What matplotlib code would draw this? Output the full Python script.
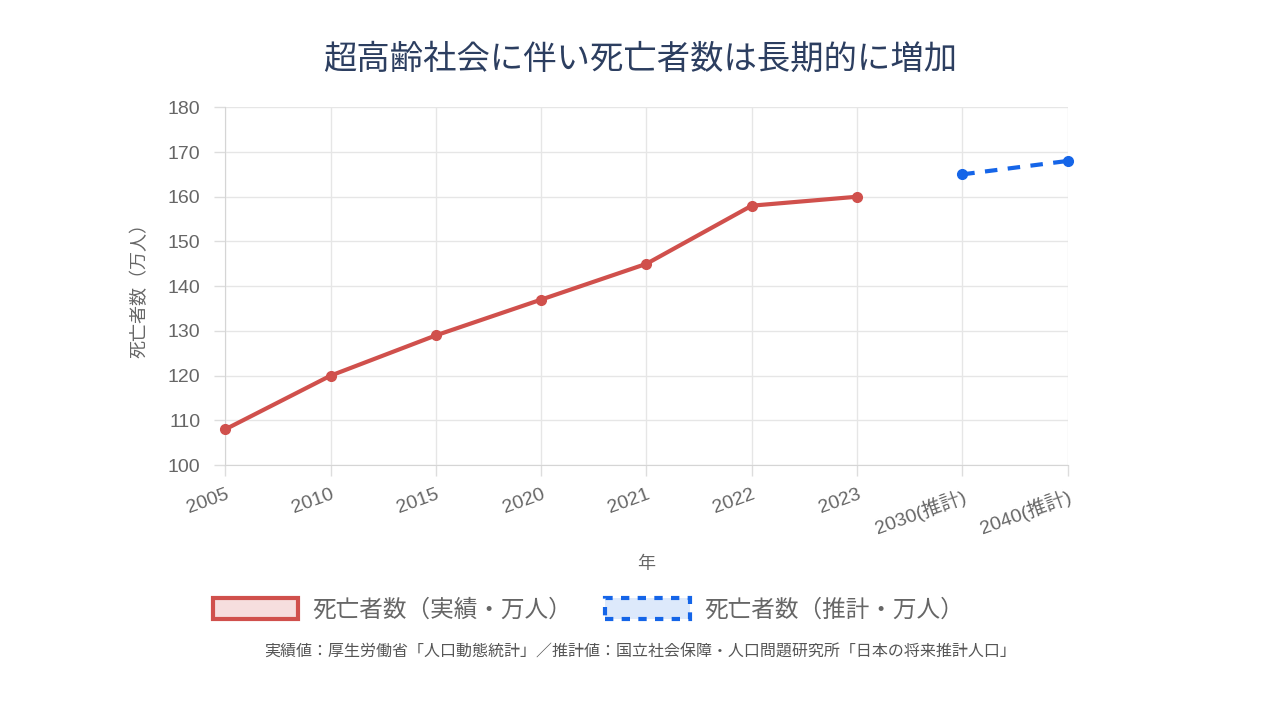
import matplotlib
matplotlib.use('Agg')
import matplotlib.pyplot as plt
from matplotlib.patches import Patch

plt.rcParams['font.family'] = ['Liberation Sans', 'Noto Sans CJK JP', 'DejaVu Sans']

# data
years = ['2005', '2010', '2015', '2020', '2021', '2022', '2023', '2030(推計)', '2040(推計)']
actual = [108, 120, 129, 137, 145, 158, 160]
forecast = [165, 168]
actual_idx = list(range(len(actual)))
forecast_idx = [7, 8]
yticks = [100, 110, 120, 130, 140, 150, 160, 170, 180]

red = '#d0504c'
blue = '#1565e8'
gray = '#666666'

fig = plt.figure(figsize=(12.8, 7.2), dpi=100)
ax = fig.add_axes([0.176, 0.354, 0.658, 0.497])

ax.plot(actual_idx, actual, color=red, linewidth=3, marker='o', markersize=7,
        solid_capstyle='round', zorder=3, clip_on=False)
ax.plot(forecast_idx, forecast, color=blue, linewidth=3, linestyle=(0, (3, 2.5)),
        marker='o', markersize=7, zorder=3, clip_on=False)

ax.set_xlim(0, 8)
ax.set_ylim(100, 180)
ax.set_yticks(yticks)
ax.set_xticks(range(len(years)))
ax.set_xticklabels(years, rotation=20, ha='right', rotation_mode='anchor')
ax.tick_params(axis='both', colors=gray, labelsize=14, length=8, width=1, color='#dddddd')
ax.tick_params(axis='x', pad=7)
ax.tick_params(axis='y', pad=10)
ax.grid(True, color='#e6e6e6', linewidth=1)
for s in ['top', 'right']:
    ax.spines[s].set_visible(False)
for s in ['left', 'bottom']:
    ax.spines[s].set_color('#d5d5d5')

ax.set_ylabel('死亡者数（万人）', color=gray, fontsize=13, labelpad=14)
ax.set_xlabel('年', color=gray, fontsize=13, labelpad=13)

fig.text(0.5, 0.917, '超高齢社会に伴い死亡者数は長期的に増加', ha='center', va='center',
         fontsize=24, color='#2c3e60')

handles = [
    Patch(facecolor='#f6dede', edgecolor=red, linewidth=3, label='死亡者数（実績・万人）'),
    Patch(facecolor='#dde9fb', edgecolor=blue, linewidth=3, linestyle=(0, (2, 2)),
          label='死亡者数（推計・万人）'),
]
leg = fig.legend(handles=handles, loc='center', bbox_to_anchor=(0.46, 0.153), ncol=2,
                 frameon=False, fontsize=17, handlelength=3.6, handleheight=1.0,
                 columnspacing=1.4, handletextpad=0.6)
for t in leg.get_texts():
    t.set_color(gray)

fig.text(0.5, 0.094, '実績値：厚生労働省「人口動態統計」／推計値：国立社会保障・人口問題研究所「日本の将来推計人口」',
         ha='center', va='center', fontsize=11.5, color='#555555')

fig.savefig('out.png', dpi=100)
